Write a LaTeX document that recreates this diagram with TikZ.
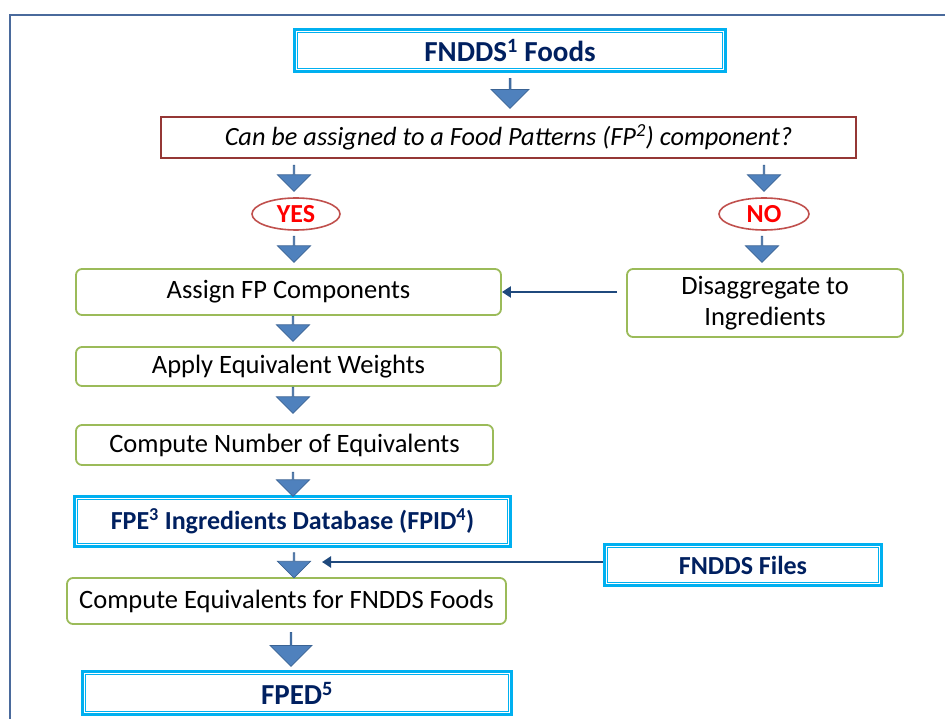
\documentclass[tikz,border=0pt]{standalone}
\usepackage{fontspec}
\setmainfont{Carlito}
\usetikzlibrary{shapes.geometric,shapes.arrows,arrows.meta}

\definecolor{hcyan}{HTML}{00B0F0}
\definecolor{hnavy}{HTML}{002060}
\definecolor{qred}{HTML}{953735}
\definecolor{ansred}{HTML}{C0504D}
\definecolor{stepgreen}{HTML}{9BBB59}
\definecolor{arrowblue}{HTML}{4F81BD}
\definecolor{arrowedge}{HTML}{3A6394}
\definecolor{linknavy}{HTML}{1F497D}
\definecolor{framecol}{HTML}{4A6A9C}

\tikzset{
  hbox/.style={draw=hcyan, line width=3pt, fill=white, text=hnavy,
    font=\fontsize{26}{30}\selectfont\bfseries, inner sep=0pt},
  bighbox/.style={hbox, font=\fontsize{29}{33}\selectfont\bfseries},
  qbox/.style={draw=qred, line width=1.6pt, font=\fontsize{26.3}{30}\selectfont\itshape, inner sep=0pt},
  stepbox/.style={draw=stepgreen, line width=1.8pt, rounded corners=6pt,
    font=\fontsize{26.5}{30}\selectfont, inner sep=0pt, align=center},
  ans/.style={ellipse, draw=ansred, line width=1.6pt, text=red,
    font=\fontsize{26}{30}\selectfont\bfseries, inner sep=0pt},
  barrow/.style={single arrow, fill=arrowblue, draw=arrowedge, line width=0.8pt,
    shape border rotate=270, single arrow head indent=0pt, inner sep=0pt},
  link/.style={draw=linknavy, line width=2.6pt, -{Triangle[length=9pt,width=11pt]}}
}

\begin{document}
\begin{tikzpicture}[x=1pt,y=-1pt]
  \useasboundingbox (0,0) rectangle (945,719);
  % frame
  \draw[framecol, line width=1.4pt] (10,760) -- (10,15) -- (960,15);

  % boxes
  \node[bighbox, minimum width=431, minimum height=42] (fndds) at (510,50.5) {FNDDS\textsuperscript{1} Foods};
  \node[qbox, minimum width=695, minimum height=41] (quest) at (508.5,137.5) {Can be assigned to a Food Patterns (FP\textsuperscript{2}) component?};
  \node[ans, minimum width=88, minimum height=32] (yes) at (296,214) {YES};
  \node[ans, minimum width=90, minimum height=32] (no) at (764,214) {NO};
  \node[stepbox, minimum width=425, minimum height=46] (assign) at (288.5,292) {Assign FP Components};
  \node[stepbox, minimum width=276, minimum height=68] (disagg) at (765,303) {Disaggregate to\\[1pt]Ingredients};
  \node[stepbox, minimum width=425, minimum height=39] (weights) at (288.5,366.5) {Apply Equivalent Weights};
  \node[stepbox, minimum width=417, minimum height=40] (count) at (284.5,445) {Compute Number of Equivalents};
  \node[hbox, minimum width=436, minimum height=50] (fpid) at (292.5,521.5) {FPE\textsuperscript{3} Ingredients Database (FPID\textsuperscript{4})};
  \node[hbox, minimum width=277, minimum height=41] (files) at (743,565) {FNDDS Files};
  \node[stepbox, minimum width=439, minimum height=46] (equiv) at (286.5,601) {Compute Equivalents for FNDDS Foods};
  \node[bighbox, minimum width=429, minimum height=43] (fped) at (297,693) {FPED\textsuperscript{5}};

  % inner line of the cyan boxes
  \foreach \n in {fndds,fpid,files,fped}
    \draw[hcyan, line width=1pt] ([shift={(4.5,4.5)}]\n.north west) rectangle ([shift={(-4.5,-4.5)}]\n.south east);

  % block arrows
  \node[barrow, minimum height=30, minimum width=38, single arrow head extend=8.5] (a0) at (510,93) {};
  \node[barrow, minimum height=26, minimum width=33, single arrow head extend=9.5] (ay1) at (294,178) {};
  \node[barrow, minimum height=26, minimum width=33, single arrow head extend=9.5] (an1) at (764,178) {};
  \node[barrow, minimum height=26, minimum width=33, single arrow head extend=9.5] (ay2) at (294,249) {};
  \node[barrow, minimum height=26, minimum width=33, single arrow head extend=9.5] (an2) at (762,249) {};
  \node[barrow, minimum height=25, minimum width=33, single arrow head extend=9.5] (a2) at (293,328.5) {};
  \node[barrow, minimum height=26, minimum width=33, single arrow head extend=9.5] (a3) at (293,400) {};
  \node[barrow, minimum height=24, minimum width=33, single arrow head extend=9.5] (a4) at (293,484) {};
  \node[barrow, minimum height=25, minimum width=33, single arrow head extend=9.5] (a5) at (294,565) {};
  \node[barrow, minimum height=34, minimum width=42, single arrow head extend=10] (a6) at (291,649) {};

  % side links
  \coordinate (fin) at (322,562);
  \path ([xshift=-9pt]disagg.west |- assign.east) edge[link] (assign.east);
  \path (files.west |- fin) edge[link] (fin);
\end{tikzpicture}
\end{document}
